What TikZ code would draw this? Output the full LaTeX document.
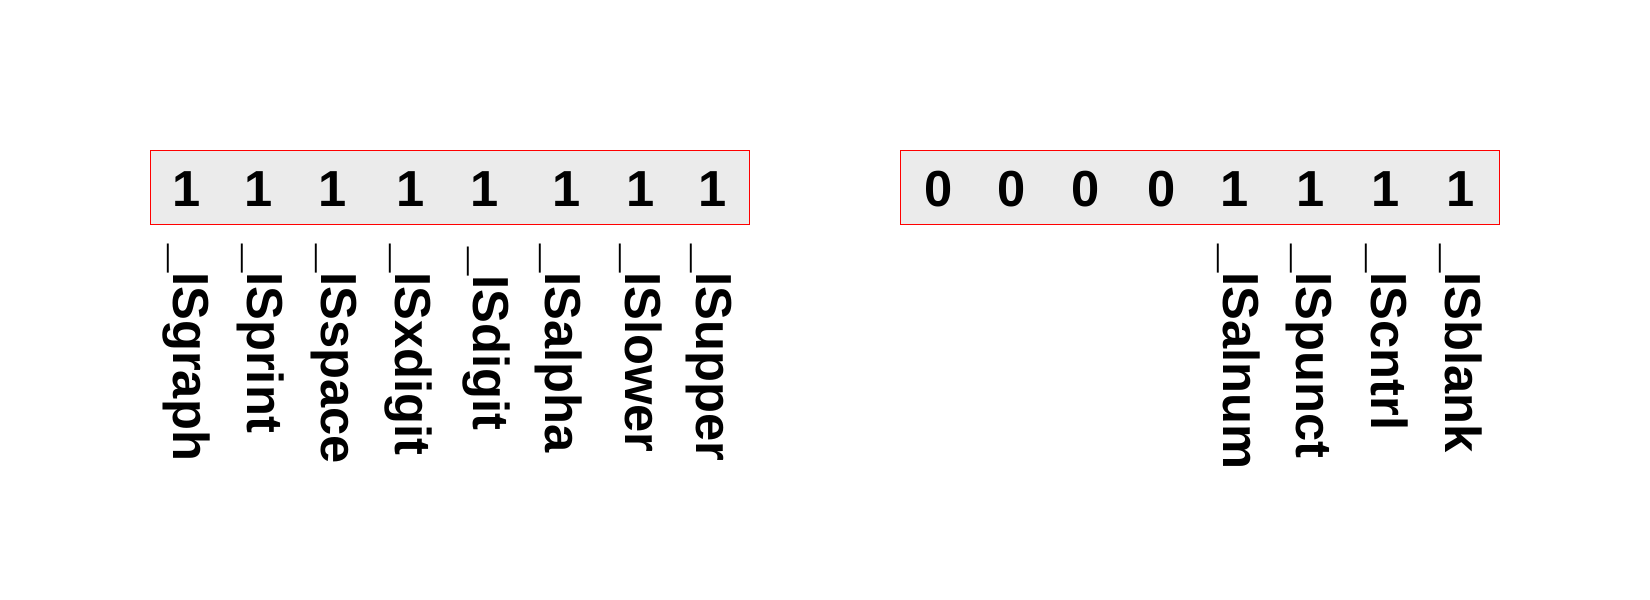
\documentclass[tikz,border=0pt]{standalone}
\usepackage{fontspec}
\setmainfont{Liberation Sans}
\begin{document}
\begin{tikzpicture}[x=0.75pt,y=-0.75pt,
  bitbox/.style={draw=red,line width=0.75pt,fill={rgb,255:red,235;green,235;blue,235}},
  bit/.style={font=\fontsize{38}{40}\selectfont\bfseries,inner sep=0pt,anchor=base},
  flag/.style={font=\fontsize{38}{40}\selectfont\bfseries,inner sep=0pt,anchor=base west,rotate=-90}]
\useasboundingbox (0,0) rectangle (1650,600);
\fill[white] (0,0) rectangle (1650,600);
\draw[bitbox] (150,150.5) rectangle (749,224);
\draw[bitbox] (900,150.5) rectangle (1499,224);
% left bits
\node[bit] (l1) at (187,206.7) {1};
\node[bit] (l2) at (258.7,206.7) {1};
\node[bit] (l3) at (332.7,206.7) {1};
\node[bit] (l4) at (410.3,206.7) {1};
\node[bit] (l5) at (484.7,206.7) {1};
\node[bit] (l6) at (567,206.7) {1};
\node[bit] (l7) at (640.3,206.7) {1};
\node[bit] (l8) at (712.7,206.7) {1};
% right bits
\node[bit] (r1) at (938.3,206.7) {0};
\node[bit] (r2) at (1011.7,206.7) {0};
\node[bit] (r3) at (1086,206.7) {0};
\node[bit] (r4) at (1161.7,206.7) {0};
\node[bit] (r5) at (1234.7,206.7) {1};
\node[bit] (r6) at (1310.3,206.7) {1};
\node[bit] (r7) at (1385.3,206.7) {1};
\node[bit] (r8) at (1460.3,206.7) {1};
% left labels
\node[flag] (ISgraph) at (173.3,244) {\_ISgraph};
\node[flag] (ISprint) at (247.3,244) {\_ISprint};
\node[flag] (ISspace) at (321.7,244) {\_ISspace};
\node[flag] (ISxdigit) at (395,244) {\_ISxdigit};
\node[flag] (ISdigit) at (473.3,247) {\_ISdigit};
\node[flag] (ISalpha) at (545,244) {\_ISalpha};
\node[flag] (ISlower) at (625,244) {\_ISlower};
\node[flag] (ISupper) at (696.7,244) {\_ISupper};
% right labels
\node[flag] (ISalnum) at (1223.3,244) {\_ISalnum};
\node[flag] (ISpunct) at (1296.7,244) {\_ISpunct};
\node[flag] (IScntrl) at (1371.7,244) {\_IScntrl};
\node[flag] (ISblank) at (1445,244) {\_ISblank};
\end{tikzpicture}
\end{document}
